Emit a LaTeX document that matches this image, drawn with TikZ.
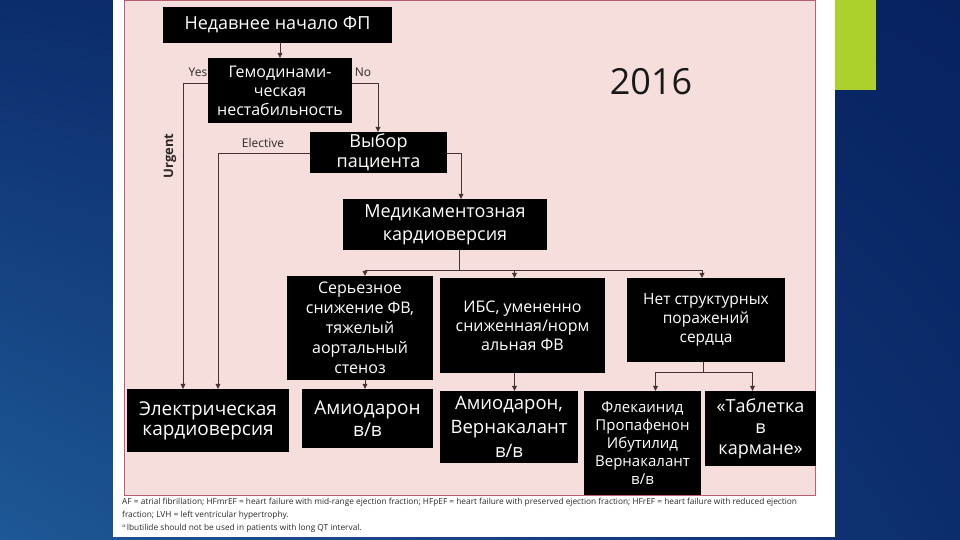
\documentclass[tikz,border=0pt]{standalone}
\usepackage{fontspec}
\setmainfont{Open Sans}
\usetikzlibrary{arrows.meta,shadings}
\definecolor{panel}{RGB}{245,222,219}
\definecolor{panelrim}{RGB}{185,95,115}
\definecolor{wire}{RGB}{70,50,50}
\definecolor{leaf}{RGB}{172,208,44}
\definecolor{note}{RGB}{45,40,40}
\definecolor{bgll}{RGB}{30,88,150}
\definecolor{bgur}{RGB}{8,34,96}
\definecolor{bgmid}{RGB}{12,45,108}

\begin{document}
\begin{tikzpicture}[x=1pt,y=-1pt,
  box/.style={fill=black,text=white,align=center,inner sep=0pt},
  wire/.style={draw=wire,line width=0.7pt},
  arr/.style={wire,-{Triangle[length=5pt,width=5pt]}},
  tag/.style={text=note,font=\fontsize{12}{14}\selectfont,inner sep=0pt}]
\useasboundingbox (0,0) rectangle (960,540);
\shade[lower left=bgll,upper right=bgur,upper left=bgmid,lower right=bgmid] (0,0) rectangle (960,540);
\fill[white] (113,0) rectangle (835,537);
\fill[leaf] (835,0) rectangle (876,90);
\filldraw[fill=panel,draw=panelrim,line width=0.8pt] (124,0) rectangle (815,495);

\node[box,minimum width=229,minimum height=36,font=\fontsize{18}{20}\selectfont] (onset) at (277.5,25) {Недавнее начало ФП};
\node[box,minimum width=144,minimum height=65,font=\fontsize{16}{19}\selectfont] (hemo) at (280,90.5) {Гемодинами-\\ческая\\нестабильность};
\node[box,minimum width=137,minimum height=41,font=\fontsize{18}{20}\selectfont] (choice) at (378.5,152.5) {Выбор\\пациента};
\node[box,minimum width=204,minimum height=51,font=\fontsize{18}{23}\selectfont] (pharm) at (445,224.5) {Медикаментозная\\кардиоверсия};
\node[box,minimum width=146,minimum height=104,font=\fontsize{16}{20}\selectfont] (severe) at (360,328) {Серьезное\\снижение ФВ,\\тяжелый\\аортальный\\стеноз};
\node[box,minimum width=165,minimum height=95,font=\fontsize{16}{19}\selectfont] (ibs) at (522.5,325.5) {ИБС, умененно\\сниженная/норм\\альная ФВ};
\node[box,minimum width=158,minimum height=84,font=\fontsize{15.5}{19}\selectfont] (nostruct) at (706,320) {Нет структурных\\поражений\\сердца};
\node[box,minimum width=162,minimum height=63,font=\fontsize{19}{20}\selectfont] (elec) at (208,420.5) {Электрическая\\кардиоверсия};
\node[box,minimum width=131,minimum height=59,font=\fontsize{19}{22}\selectfont] (amio) at (367.5,418.5) {Амиодарон\\в/в};
\node[box,minimum width=138,minimum height=72,font=\fontsize{18.5}{24}\selectfont] (amiovern) at (509,427) {Амиодарон,\\Вернакалант\\в/в};
\node[box,minimum width=117,minimum height=104,font=\fontsize{15}{18}\selectfont] (flec) at (642.5,443) {Флекаинид\\Пропафенон\\Ибутилид\\Вернакалант\\в/в};
\node[box,minimum width=111,minimum height=75,font=\fontsize{18}{21}\selectfont] (pill) at (760.5,428.5) {«Таблетка\\в\\кармане»};

\node[font=\fontsize{36}{40}\selectfont,text=black!90] (year) at (651,82) {2016};
\node[tag] (yes) at (198,72) {Yes};
\node[tag] (no) at (363,72) {No};
\node[tag] (elective) at (263,143) {Elective};
\node[tag,rotate=90,font=\fontsize{13}{14}\selectfont\bfseries] (urgent) at (170,156) {Urgent};

\coordinate (yesx) at (183,83);
\coordinate (nox) at (378,83);
\coordinate (elx) at (218,153);
\coordinate (chx) at (461,153);
\coordinate (bus1) at (459,270);
\coordinate (bus2) at (703,372);

\draw[arr] (onset.south -| hemo) -- (hemo.north);
\draw[arr] (hemo.west |- yesx) -| (elec.north -| yesx);
\draw[arr] (hemo.east |- nox) -| (choice.north -| nox);
\draw[arr] (choice.west |- elx) -| (elec.north -| elx);
\draw[arr] (choice.east |- chx) -| (pharm.north -| chx);
\draw[wire] (pharm.south -| bus1) -- (bus1);
\draw[arr] (bus1) -| ([xshift=5pt]severe.north);
\draw[arr] (bus1) -| ([xshift=-8pt]ibs.north);
\draw[arr] (bus1) -| ([xshift=-4pt]nostruct.north);
\draw[arr] ([xshift=5pt]severe.south) -- ([xshift=5pt]severe.south |- amio.north);
\draw[arr] ([xshift=-8pt]ibs.south) -- ([xshift=-8pt]ibs.south |- amiovern.north);
\draw[wire] (nostruct.south -| bus2) -- (bus2);
\draw[arr] (bus2) -| ([xshift=13pt]flec.north);
\draw[arr] (bus2) -| ([xshift=-8pt]pill.north);

\node[anchor=west,text=note,font=\fontsize{8.3}{9}\selectfont,inner sep=0pt] (fn1) at (122,502) {AF = atrial fibrillation; HFmrEF = heart failure with mid-range ejection fraction; HFpEF = heart failure with preserved ejection fraction; HFrEF = heart failure with reduced ejection};
\node[anchor=west,text=note,font=\fontsize{8.3}{9}\selectfont,inner sep=0pt] (fn2) at (122,515) {fraction; LVH = left ventricular hypertrophy.};
\node[anchor=west,text=note,font=\fontsize{8.3}{9}\selectfont,inner sep=0pt] (fn3) at (122,528) {$^{a}$Ibutilide should not be used in patients with long QT interval.};
\end{tikzpicture}
\end{document}
